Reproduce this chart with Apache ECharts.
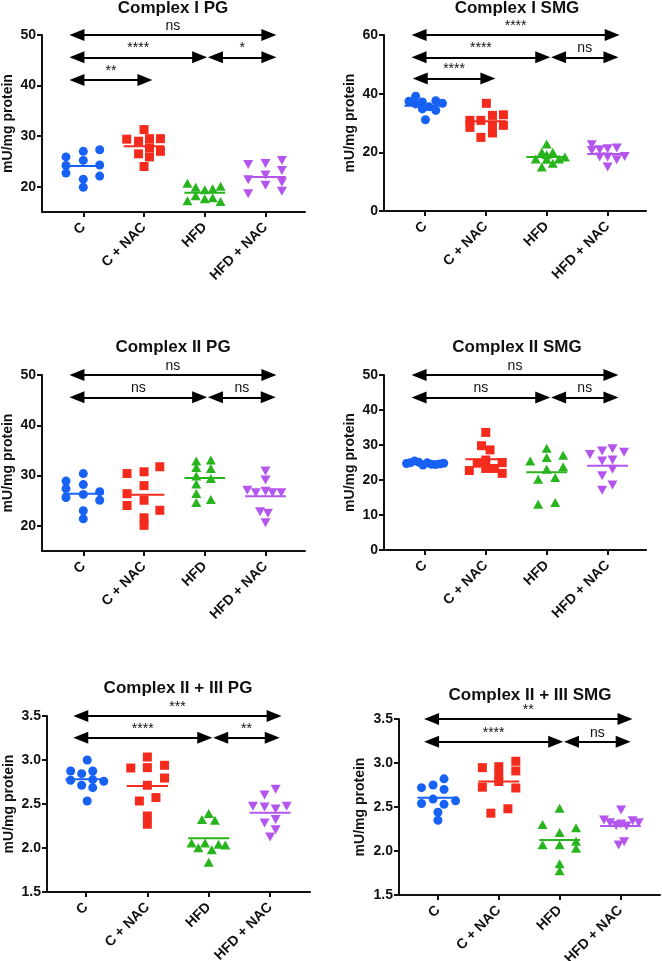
<!DOCTYPE html>
<html><head><meta charset="utf-8">
<script src="https://cdn.jsdelivr.net/npm/echarts@6/dist/echarts.min.js"></script>
<style>html,body{margin:0;padding:0;background:#fff}#c{width:662px;height:961px}</style>
</head><body><div id="c"></div><script>
// ---------- DATA ----------
const categories = ['C', 'C + NAC', 'HFD', 'HFD + NAC'];
const panelTitles = ['Complex I PG', 'Complex I SMG', 'Complex II PG', 'Complex II SMG', 'Complex II + III PG', 'Complex II + III SMG'];
const yAxisName = 'mU/mg protein';

// points: [jitter offset within category, value]
const IPG_C    = [[-0.285,25.9],[-0.285,24.2],[-0.285,22.7],[0,27.0],[0,25.2],[0,21.5],[0,19.9],[0.27,27.3],[0.27,24.3],[0.27,22.1]];
const IPG_CN   = [[0,31.3],[-0.285,29.4],[-0.09,29.0],[0.09,29.5],[0.27,29.5],[0.09,27.7],[0.27,27.0],[-0.09,26.5],[0.09,25.9],[0,24.0]];
const IPG_H    = [[-0.285,20.7],[-0.15,19.9],[0,19.4],[0.13,19.6],[0.26,20.1],[-0.285,17.2],[-0.15,18.2],[0,17.6],[0.13,17.8],[0.26,17.1]];
const IPG_HN   = [[-0.285,24.4],[0,24.6],[0.27,25.2],[0.27,23.2],[-0.285,21.4],[0,22.3],[0.27,20.9],[0,20.3],[0.27,19.1],[-0.285,18.6]];
const IPG_mean = [24.1, 28.0, 18.8, 21.9];

const ISMG_C    = [[-0.15,39.1],[-0.26,37.4],[-0.15,36.5],[-0.04,37.2],[-0.04,34.8],[0.07,35.5],[0.18,37.6],[0.18,34.3],[0.29,36.7],[0.01,31.1]];
const ISMG_CN   = [[0.01,36.7],[-0.26,30.9],[-0.26,28.5],[-0.08,30.9],[-0.08,25.1],[0.11,32.6],[0.11,29.2],[0.11,26.6],[0.29,32.8],[0.29,29.2]];
const ISMG_H    = [[0,22.8],[-0.08,20.0],[0.1,20.0],[-0.18,17.7],[0,19.2],[0.2,17.7],[0.3,18.4],[-0.08,15.0],[0.1,16.3],[0,17.6]];
const ISMG_HN   = [[-0.26,22.6],[-0.26,20.6],[-0.13,20.9],[0,21.2],[0.15,21.5],[-0.13,18.4],[0,18.4],[0.15,17.5],[0.28,18.6],[0,15.0]];
const ISMG_mean = [35.9, 30.6, 18.4, 19.4];

const IIPG_C    = [[-0.285,28.9],[-0.285,27.4],[-0.285,25.65],[0,30.4],[0,28.2],[0,26.25],[0,23.0],[0,21.4],[0.27,26.8],[0.27,25.1]];
const IIPG_CN   = [[-0.28,30.4],[0,30.75],[0.26,31.75],[0,28.0],[-0.28,26.4],[0,25.1],[-0.28,24.05],[0.26,23.1],[0,21.6],[0,20.1]];
const IIPG_H    = [[-0.14,32.9],[-0.14,31.6],[-0.14,29.9],[-0.14,28.3],[-0.14,26.45],[-0.14,24.65],[0.1,33.1],[0.1,31.4],[0.1,29.4],[0.1,25.25]];
const IIPG_HN   = [[0,30.9],[0,29.1],[-0.3,27.1],[-0.16,26.6],[0,26.9],[0.115,26.6],[0.26,26.6],[-0.09,22.8],[0.04,22.5],[0,20.6]];
const IIPG_mean = [26.4, 26.2, 29.5, 25.9];

const IISMG_C    = [[-0.3,24.7],[-0.24,24.9],[-0.17,25.4],[-0.1,25.1],[-0.03,24.3],[0.04,24.9],[0.11,24.5],[0.18,24.4],[0.25,24.6],[0.31,24.8]];
const IISMG_CN   = [[0,33.6],[-0.07,29.8],[0.07,28.6],[-0.27,22.7],[-0.14,24.8],[0,25.7],[0,23.3],[0.14,23.3],[0.27,24.95],[0.27,21.9]];
const IISMG_H    = [[0,29.05],[-0.27,25.4],[0,26.4],[0.27,27.1],[0.27,23.8],[0,23.05],[-0.14,20.2],[0.14,20.7],[-0.14,13.05],[0.14,13.6]];
const IISMG_HN   = [[-0.29,27.3],[-0.09,28.3],[0.08,28.9],[0.27,27.9],[-0.09,25.4],[0.08,25.7],[0.08,23.05],[-0.09,21.2],[0.08,18.6],[-0.09,17.05]];
const IISMG_mean = [24.8, 25.9, 22.2, 24.1];

const IIIPG_C    = [[0.02,3.00],[-0.25,2.875],[0.11,2.875],[-0.07,2.845],[-0.25,2.77],[0.11,2.777],[0.29,2.758],[-0.07,2.713],[0.11,2.686],[0.02,2.534]];
const IIIPG_CN   = [[0,3.034],[-0.27,2.909],[0,2.913],[0.28,2.94],[0.28,2.795],[0,2.713],[-0.13,2.534],[0.14,2.573],[0,2.364],[0,2.27]];
const IIIPG_H    = [[0,2.391],[-0.11,2.323],[0.1,2.315],[-0.28,2.057],[-0.17,2.004],[-0.06,2.057],[0.05,1.98],[0.16,2.042],[0.27,2.034],[0,1.837]];
const IIIPG_HN   = [[0.09,2.667],[-0.09,2.602],[-0.28,2.474],[-0.09,2.466],[0.09,2.443],[0.27,2.474],[-0.09,2.284],[0.09,2.323],[0.09,2.208],[0,2.125]];
const IIIPG_mean = [2.78, 2.705, 2.11, 2.40];

const IIISMG_C    = [[-0.27,2.72],[-0.08,2.75],[0.1,2.82],[0.1,2.70],[-0.27,2.54],[-0.08,2.59],[0.1,2.53],[0.29,2.57],[0,2.44],[0,2.35]];
const IIISMG_CN   = [[-0.27,2.947],[0,2.958],[0.28,3.02],[0.28,2.91],[0,2.87],[0,2.79],[-0.27,2.725],[0.28,2.716],[-0.13,2.43],[0.15,2.48]];
const IIISMG_H    = [[0,2.485],[-0.28,2.30],[0.27,2.265],[0,2.21],[-0.28,2.07],[0,2.07],[0.27,2.11],[0.27,2.03],[0,1.856],[0,1.776]];
const IIISMG_HN   = [[0.01,2.466],[-0.27,2.352],[-0.17,2.32],[-0.07,2.29],[0.01,2.307],[0.1,2.284],[0.2,2.344],[0.3,2.32],[-0.03,2.068],[0.06,2.106]];
const IIISMG_mean = [2.605, 2.79, 2.125, 2.284];

// y-axis tick values
const yTicks_IPG = [20, 30, 40, 50];
const yTicks_ISMG = [0, 20, 40, 60];
const yTicks_IIPG = [20, 30, 40, 50];
const yTicks_IISMG = [0, 10, 20, 30, 40, 50];
const yTicks_IIIPG = [1.5, 2.0, 2.5, 3.0, 3.5];
const yTicks_IIISMG = [1.5, 2.0, 2.5, 3.0, 3.5];

// significance brackets: [from category pos, to category pos, y value, label]
const sig_IPG = [[0.78,4.17,50,'ns'],[0.78,3.03,45.6,'****'],[3.06,4.17,45.6,'*'],[0.78,2.13,41.1,'**']];
const sig_ISMG = [[0.79,4.19,60,'****'],[0.79,3.05,52.4,'****'],[3.08,4.17,52.4,'ns'],[0.81,2.15,45.2,'****']];
const sig_IIPG = [[0.78,4.17,50,'ns'],[0.78,3.03,45.56,'ns'],[3.06,4.16,45.56,'ns']];
const sig_IISMG = [[0.79,4.17,50,'ns'],[0.79,3.05,43.6,'ns'],[3.08,4.17,43.6,'ns']];
const sig_IIIPG = [[0.8,4.18,3.5,'***'],[0.8,3.05,3.254,'****'],[3.08,4.15,3.254,'**']];
const sig_IIISMG = [[0.78,4.19,3.5,'**'],[0.78,3.05,3.242,'****'],[3.08,4.16,3.242,'ns']];

// ---------- LAYOUT / STYLE ----------
const FONT = '"Liberation Sans", Arial, Helvetica, sans-serif';
const colors = ['#1761f4', '#f42a1c', '#28b41c', '#b456ee'];
const symbols = [
  {symbol:'circle', size:9, rot:0},
  {symbol:'rect', size:9, rot:0},
  {symbol:'triangle', size:[10,9], rot:0},
  {symbol:'triangle', size:[10,9], rot:180}
];
const panels = [
  {groups:[IPG_C,IPG_CN,IPG_H,IPG_HN], means:IPG_mean, ticks:yTicks_IPG, sig:sig_IPG, ymin:15, ymax:50, dec:0,
   grid:{left:42,top:35,width:263,height:177}, xmin:0.32, xmax:4.65, tx:173, ty:0, gap:27},
  {groups:[ISMG_C,ISMG_CN,ISMG_H,ISMG_HN], means:ISMG_mean, ticks:yTicks_ISMG, sig:sig_ISMG, ymin:0, ymax:60, dec:0,
   grid:{left:384,top:35,width:262,height:176}, xmin:0.33, xmax:4.63, tx:517, ty:0, gap:27},
  {groups:[IIPG_C,IIPG_CN,IIPG_H,IIPG_HN], means:IIPG_mean, ticks:yTicks_IIPG, sig:sig_IIPG, ymin:15, ymax:50, dec:0,
   grid:{left:42,top:375,width:263,height:176}, xmin:0.32, xmax:4.65, tx:173, ty:339, gap:27},
  {groups:[IISMG_C,IISMG_CN,IISMG_H,IISMG_HN], means:IISMG_mean, ticks:yTicks_IISMG, sig:sig_IISMG, ymin:0, ymax:50, dec:0,
   grid:{left:384,top:375,width:262,height:175}, xmin:0.33, xmax:4.63, tx:517, ty:339, gap:27},
  {groups:[IIIPG_C,IIIPG_CN,IIIPG_H,IIIPG_HN], means:IIIPG_mean, ticks:yTicks_IIIPG, sig:sig_IIIPG, ymin:1.5, ymax:3.5, dec:1,
   grid:{left:47,top:716,width:263,height:176}, xmin:0.365, xmax:4.65, tx:178, ty:680, gap:31},
  {groups:[IIISMG_C,IIISMG_CN,IIISMG_H,IIISMG_HN], means:IIISMG_mean, ticks:yTicks_IIISMG, sig:sig_IIISMG, ymin:1.5, ymax:3.5, dec:1,
   grid:{left:399,top:719,width:261,height:176}, xmin:0.36, xmax:4.65, tx:530, ty:687, gap:32}
];
const catPos = categories.map((c, i) => i + 1);
const MEAN_HALF = 0.335;
const ARROW_HALF = 0.115;

const option = {
  animation: false,
  backgroundColor: '#fff',
  title: [], grid: [], xAxis: [], yAxis: [], series: []
};

panels.forEach((p, i) => {
  option.title.push({
    text: panelTitles[i], left: p.tx, top: p.ty, textAlign: 'center', textVerticalAlign: 'top', padding: 0,
    textStyle: {fontFamily: FONT, fontSize: 17, fontWeight: 'bold', color: '#111'}
  });
  option.grid.push(Object.assign({outerBoundsMode: 'none', containLabel: false}, p.grid));
  option.xAxis.push({
    type: 'value', gridIndex: i, min: p.xmin, max: p.xmax,
    splitLine: {show: false},
    axisLine: {show: true, onZero: false, lineStyle: {color: '#111', width: 2}},
    axisTick: {show: true, customValues: catPos, length: 5, lineStyle: {color: '#111', width: 2}},
    axisLabel: {show: true, customValues: catPos, rotate: 45, margin: 13,
      formatter: v => categories[Math.round(v) - 1],
      fontFamily: FONT, fontSize: 14, fontWeight: 'bold', color: '#111'}
  });
  option.yAxis.push({
    type: 'value', gridIndex: i, min: p.ymin, max: p.ymax,
    name: yAxisName, nameLocation: 'middle', nameGap: p.gap,
    nameTextStyle: {fontFamily: FONT, fontSize: 14, fontWeight: 'bold', color: '#111'},
    splitLine: {show: false},
    axisLine: {show: true, lineStyle: {color: '#111', width: 2}},
    axisTick: {show: true, customValues: p.ticks, length: 5, lineStyle: {color: '#111', width: 2}},
    axisLabel: {show: true, customValues: p.ticks, margin: 6,
      formatter: v => Number(v).toFixed(p.dec),
      fontFamily: FONT, fontSize: 14, fontWeight: 'bold', color: '#111'}
  });
  p.groups.forEach((g, k) => {
    option.series.push({
      type: 'scatter', xAxisIndex: i, yAxisIndex: i,
      symbol: symbols[k].symbol, symbolSize: symbols[k].size, symbolRotate: symbols[k].rot,
      itemStyle: {color: colors[k], opacity: 1},
      data: g.map(d => [catPos[k] + d[0], d[1]]),
      silent: true, z: 3
    });
    option.series.push({
      type: 'line', xAxisIndex: i, yAxisIndex: i, symbol: 'none', silent: true,
      lineStyle: {color: colors[k], width: 2},
      data: [[catPos[k] - MEAN_HALF, p.means[k]], [catPos[k] + MEAN_HALF, p.means[k]]], z: 4
    });
  });
  option.series.push({
    type: 'line', xAxisIndex: i, yAxisIndex: i, data: [], clip: false, silent: true,
    markLine: {
      silent: true, animation: false,
      symbol: ['triangle', 'triangle'], symbolSize: [12, 15],
      lineStyle: {color: '#000', width: 2, type: 'solid'},
      itemStyle: {color: '#000'},
      emphasis: {disabled: true},
      label: {show: true, position: 'insideMiddleTop', distance: 2, formatter: prm => prm.name,
        fontFamily: FONT, fontSize: 14, color: '#111'},
      data: p.sig.map(s => [
        {coord: [s[0] + ARROW_HALF, s[2]], name: s[3]},
        {coord: [s[1] - ARROW_HALF, s[2]]}
      ])
    }
  });
});

const chart = echarts.init(document.getElementById('c'), null, {renderer: 'canvas'});
chart.setOption(option);
</script></body></html>
